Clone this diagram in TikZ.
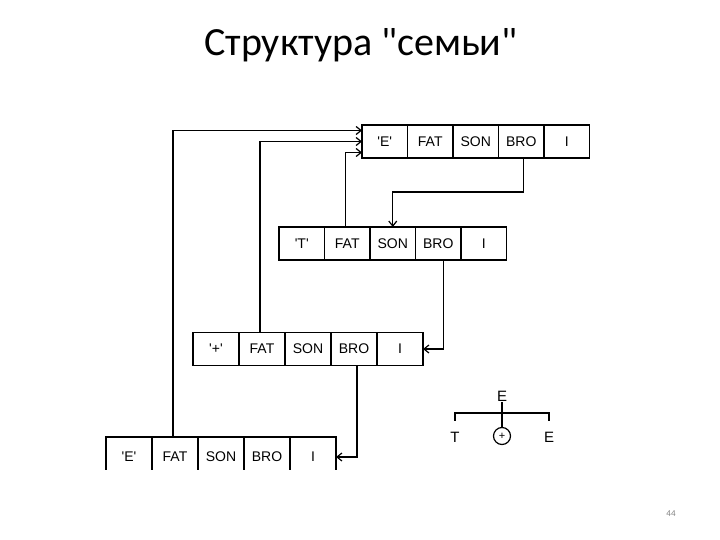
\documentclass[tikz,border=0pt]{standalone}
\usepackage{fontspec}
\setmainfont{Carlito}
\newfontfamily\cellfont{Liberation Sans}
\usetikzlibrary{positioning,calc,arrows.meta}

\tikzset{
  cell/.style={draw, line width=1.2pt, minimum width=45.5pt, minimum height=33pt,
    inner sep=0pt, outer sep=0pt, font=\cellfont\fontsize{14}{16}\selectfont},
  link/.style={-{Straight Barb[length=5pt,width=8pt]}, line width=1.2pt},
  treelabel/.style={inner sep=1pt, font=\cellfont\fontsize{15}{17}\selectfont},
}

\begin{document}
\begin{tikzpicture}[x=1pt, y=-1pt]
    \useasboundingbox (0,0) rectangle (720,540);
    \node[font=\fontsize{40}{46}\selectfont] (title) at (361,45) {Структура \textquotedbl семьи\textquotedbl};

    % record 'E' (root)
    \node[cell] (r1k) at (384.75,141.5) {\textquotesingle E\textquotesingle};
    \node[cell, right=0pt of r1k] (r1f) {FAT};
    \node[cell, right=0pt of r1f] (r1s) {SON};
    \node[cell, right=0pt of r1s] (r1b) {BRO};
    \node[cell, right=0pt of r1b] (r1i) {I};

    % record 'T'
    \node[cell] (r2k) at (301.75,243.5) {\textquotesingle T\textquotesingle};
    \node[cell, right=0pt of r2k] (r2f) {FAT};
    \node[cell, right=0pt of r2f] (r2s) {SON};
    \node[cell, right=0pt of r2s] (r2b) {BRO};
    \node[cell, right=0pt of r2b] (r2i) {I};

    % record '+'
    \begin{scope}[cell/.append style={minimum width=46pt}]
        \node[cell] (r3k) at (216,349) {\textquotesingle +\textquotesingle};
        \node[cell, right=0pt of r3k] (r3f) {FAT};
        \node[cell, right=0pt of r3f] (r3s) {SON};
        \node[cell, right=0pt of r3s] (r3b) {BRO};
        \node[cell, right=0pt of r3b] (r3i) {I};
    \end{scope}

    % record 'E' (leaf), cut at the bottom
    \begin{scope}[cell/.append style={minimum width=46pt, minimum height=40pt}]
        \clip (0,0) rectangle (720,469);
        \node[cell] (r4k) at (129,457) {\textquotesingle E\textquotesingle};
        \node[cell, right=0pt of r4k] (r4f) {FAT};
        \node[cell, right=0pt of r4f] (r4s) {SON};
        \node[cell, right=0pt of r4s] (r4b) {BRO};
        \node[cell, right=0pt of r4b] (r4i) {I};
    \end{scope}

    % FAT pointers
    \draw[link] ([xshift=-2pt]r4f.north) |- ([yshift=11pt]r1k.west);
    \draw[link] ([xshift=-2pt]r3f.north) |- (r1k.west);
    \draw[link] ([xshift=-2pt]r2f.north) |- ([yshift=-11pt]r1k.west);

    % SON / BRO pointers
    \draw[link] ([xshift=2pt]r1b.south) -- ++(0,34) -| (r2s.north);
    \draw[link] ([xshift=5pt]r2b.south) |- (r3i.east);
    \draw[link] ([xshift=3pt]r3b.south) |- (r4i.east);

    % small tree
    \node[treelabel] (tE) at (502,396) {E};
    \node[treelabel] (tT) at (455,437) {T};
    \node[draw, circle, line width=1.2pt, minimum size=17pt, inner sep=0pt,
      font=\cellfont\fontsize{11}{12}\selectfont] (tP) at (502,436) {+};
    \node[treelabel] (tE2) at (549,437) {E};
    \coordinate (bar) at (502,413);
    \draw[line width=1.2pt] (tE) -- (tP);
    \draw[line width=1.2pt] ([yshift=10pt]tT.north) |- (bar) -| ([yshift=10pt]tE2.north);

    \node[text=gray, font=\fontsize{9}{11}\selectfont] (pg) at (671,514) {44};
\end{tikzpicture}
\end{document}
